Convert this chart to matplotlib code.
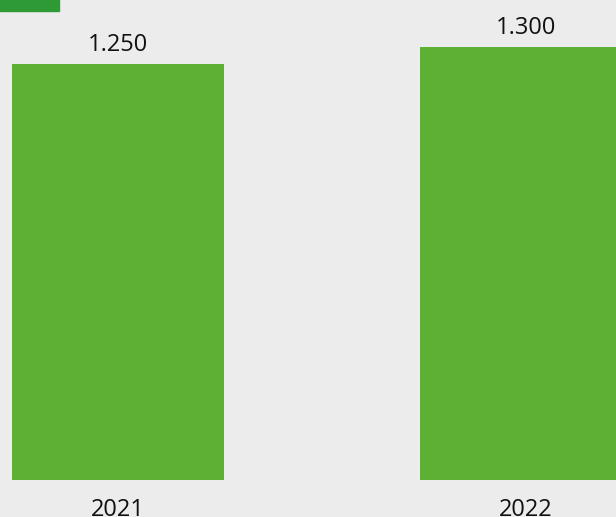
import matplotlib.pyplot as plt
from matplotlib.patches import Rectangle

years = ['2021', '2022']
values = [1.250, 1.300]
labels = ['1.250', '1.300']

bg = '#ececec'
bar_color = '#5eb035'
key_color = '#2e9a35'

plt.rcParams['font.family'] = ['Open Sans', 'DejaVu Sans']

fig = plt.figure(figsize=(6.16, 5.17), dpi=100, facecolor=bg)
ax = fig.add_axes([0, 37 / 517, 1, 480 / 517])
ax.set_facecolor(bg)

x = range(len(years))
bars = ax.bar(x, values, width=0.52, color=bar_color, clip_on=False)
ax.set_xlim(-0.289, 1.2206)
ax.set_ylim(0, 1.4423)

for b, lab in zip(bars, labels):
    ax.annotate(lab, (b.get_x() + b.get_width() / 2, b.get_height()),
                xytext=(0, 5), textcoords='offset points',
                ha='center', va='bottom', fontsize=17, color='#111111')

ax.set_xticks(list(x))
ax.set_xticklabels(years, fontsize=17, color='#111111')
ax.tick_params(axis='x', length=0, pad=13)
ax.set_yticks([])
for s in ax.spines.values():
    s.set_visible(False)

# small series key in the corner, mostly cut off
fig.patches.append(Rectangle((0, 1 - 11 / 517), 59 / 616, 11 / 517,
                             transform=fig.transFigure, color=key_color))

fig.savefig('out.png', dpi=100, facecolor=bg)
